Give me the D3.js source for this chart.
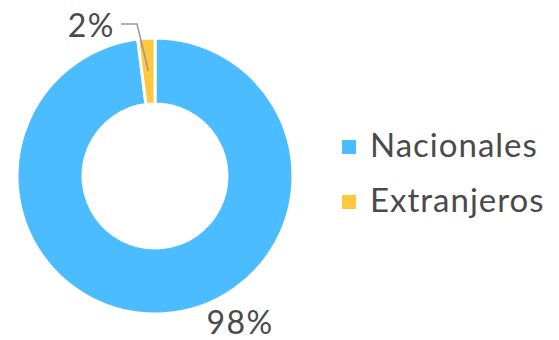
<!DOCTYPE html>
<html>
<head>
<meta charset="utf-8">
<script src="https://cdn.jsdelivr.net/npm/d3@7"></script>
<style>
  body { margin: 0; background: #fff; }
  text { font-family: Lato, "Open Sans", sans-serif; fill: #4a4a4a; }
</style>
</head>
<body>
<svg id="chart" width="559" height="340"></svg>
<script>
var categories = ["Nacionales", "Extranjeros"];
var values = [98, 2];
var labels = ["98%", "2%"];
var colours = ["#4bbcff", "#ffc83f"];

var svg = d3.select("#chart");
var cx = 155, cy = 176, outerR = 138, innerR = 72;

var pie = d3.pie().sort(null).value(function(d) { return d; });
var arcs = pie(values);
var arc = d3.arc().innerRadius(innerR).outerRadius(outerR);

var g = svg.append("g").attr("transform", "translate(" + cx + "," + cy + ")");

g.selectAll("path.slice")
  .data(arcs)
  .enter().append("path")
  .attr("class", "slice")
  .attr("d", arc)
  .attr("fill", function(d, i) { return colours[i]; })
  .attr("stroke", "#fff")
  .attr("stroke-width", 3)
  .attr("stroke-linejoin", "round");

function polar(r, a) { return [r * Math.sin(a), -r * Math.cos(a)]; }

// big slice label, sits below-right of the ring
var a0 = arcs[0];
var p0 = polar(outerR + 32, a0.startAngle + (a0.endAngle - a0.startAngle) * 0.425);
g.append("text")
  .attr("x", p0[0])
  .attr("y", p0[1] + 11)
  .attr("text-anchor", "middle")
  .style("font-size", "32px")
  .style("letter-spacing", "1.5px")
  .text(labels[0]);

// small slice label with a leader line
var a1 = arcs[1];
var mid = (a1.startAngle + a1.endAngle) / 2;
var c = arc.centroid(a1);
var elbow = polar(outerR + 15, mid - 0.055);
var tail = [elbow[0] - 16, elbow[1]];
g.append("polyline")
  .attr("points", [c, elbow, tail].map(function(p) { return p.join(","); }).join(" "))
  .attr("fill", "none")
  .attr("stroke", "#999")
  .attr("stroke-width", 1.5);
g.append("text")
  .attr("x", tail[0] - 6)
  .attr("y", tail[1] + 12.5)
  .attr("text-anchor", "end")
  .style("font-size", "32px")
  .style("letter-spacing", "1.5px")
  .text(labels[1]);

// legend
var legend = svg.append("g").attr("transform", "translate(342,133)");
var item = legend.selectAll("g")
  .data(categories)
  .enter().append("g")
  .attr("transform", function(d, i) { return "translate(0," + (i * 55) + ")"; });
item.append("rect")
  .attr("y", 7)
  .attr("width", 14)
  .attr("height", 14)
  .attr("fill", function(d, i) { return colours[i]; });
item.append("text")
  .attr("x", 28)
  .attr("y", 24)
  .style("font-size", "33px")
  .style("letter-spacing", "1px")
  .text(function(d) { return d; });
</script>
</body>
</html>
